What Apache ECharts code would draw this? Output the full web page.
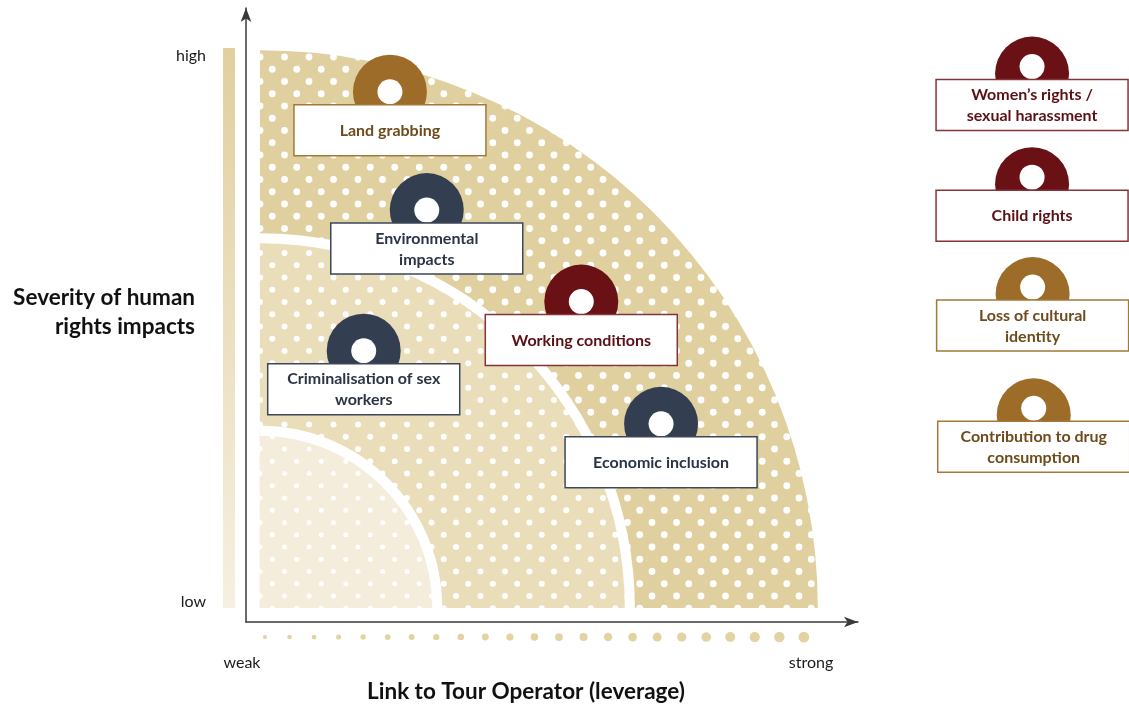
<!DOCTYPE html>
<html>
<head>
<meta charset="utf-8">
<script src="https://cdn.jsdelivr.net/npm/echarts@6/dist/echarts.min.js"></script>
<style>
html,body{margin:0;padding:0;background:#fff}
#main{width:1129px;height:711px}
</style>
</head>
<body>
<div id="main"></div>
<script>
// 风险区域（半径，单位与杠杆轴一致）
var zoneNames = ['outer', 'middle', 'inner'];
var zoneRadius = [100, 65.4, 30.9];

// 图中的人权议题
var issueNames = ['Land grabbing', 'Environmental\nimpacts', 'Working conditions', 'Criminalisation of sex\nworkers', 'Economic inclusion'];
var issueLeverage = [23.3, 29.9, 57.6, 18.6, 71.9];
var issueSeverity = [92.5, 71.3, 54.9, 46.1, 33.0];
var issueGroup = [0, 1, 2, 1, 1];

// 右侧未定位的议题
var otherNames = ['Women\u2019s rights /\nsexual harassment', 'Child rights', 'Loss of cultural\nidentity', 'Contribution to drug\nconsumption'];
var otherLeverage = [138.4, 138.4, 138.5, 138.7];
var otherSeverity = [97.0, 77.2, 57.5, 35.8];
var otherGroup = [2, 2, 0, 0];

// 底部杠杆刻度点
var leverageSteps = [0.9, 5.3, 9.7, 14.1, 18.5, 22.9, 27.2, 31.6, 36.0, 40.4, 44.8, 49.2,
  53.6, 58.0, 62.4, 66.8, 71.2, 75.6, 80.0, 84.3, 88.7, 93.1, 97.5];

var groupStyle = [
  {ring: '#9d6c29', border: '#a47838', text: '#6e4b1d'},  // brown
  {ring: '#333e50', border: '#3c4759', text: '#2b3445'},  // navy
  {ring: '#6a1116', border: '#843437', text: '#5b1015'}   // maroon
];

var FONT = 'Lato, "Open Sans", sans-serif';

// 圆点纹理
function dotPattern(bg, dotR) {
  var cv = document.createElement('canvas');
  cv.width = 49; cv.height = 49;
  var ctx = cv.getContext('2d');
  ctx.fillStyle = bg;
  ctx.fillRect(0, 0, 49, 49);
  ctx.fillStyle = '#ffffff';
  var ys = [6, 18.25, 30.5, 42.75];
  for (var i = 0; i < ys.length; i++) {
    var xs = i % 2 === 0 ? [6, 30.5] : [18.25, 42.75];
    for (var j = 0; j < xs.length; j++) {
      ctx.beginPath();
      ctx.arc(xs[j], ys[i], dotR, 0, Math.PI * 2);
      ctx.fill();
    }
  }
  return {image: cv, repeat: 'repeat', x: 254, y: 2};
}
var zonePatterns = [
  dotPattern('#e1d09f', 3.4),
  dotPattern('#eaddb9', 3.0),
  dotPattern('#f4eddb', 2.5)
];
var zoneGap = 1.8;

function itemRenderer(names, shift) {
  return function (params, api) {
    var p = api.coord([api.value(0), api.value(1)]);
    var st = groupStyle[api.value(2)];
    return {
      type: 'group',
      children: [
        {type: 'circle', shape: {cx: p[0], cy: p[1] + shift, r: 37}, style: {fill: st.ring}},
        {type: 'circle', shape: {cx: p[0], cy: p[1], r: 12.5}, style: {fill: '#fff'}},
        {type: 'rect', shape: {x: p[0] - 96, y: p[1] + 13, width: 192, height: 51},
          style: {fill: '#fff', stroke: st.border, lineWidth: 1.5}},
        {type: 'text', x: p[0], y: p[1] + 13 + 26,
          style: {text: names[params.dataIndex], fill: st.text, font: 'bold 16px ' + FONT,
            align: 'center', verticalAlign: 'middle', lineHeight: 21}}
      ]
    };
  };
}

function zip(a, b, c) {
  return a.map(function (v, i) { return [v, b[i], c[i]]; });
}

var myChart = echarts.init(document.getElementById('main'));
var option = {
  animation: false,
  grid: {left: 246, right: 271, top: 8, bottom: 89},
  xAxis: {
    type: 'value', min: -2.5, max: 107.2,
    axisLine: {show: true, onZero: false, symbol: ['none', 'arrow'], symbolSize: [8, 14],
      lineStyle: {color: '#3a3a3a', width: 1.5}},
    axisTick: {show: false}, axisLabel: {show: false}, splitLine: {show: false}
  },
  yAxis: {
    type: 'value', min: -2.5, max: 107.5,
    axisLine: {show: true, onZero: false, symbol: ['none', 'arrow'], symbolSize: [8, 14],
      lineStyle: {color: '#3a3a3a', width: 1.5}},
    axisTick: {show: false}, axisLabel: {show: false}, splitLine: {show: false}
  },
  graphic: [
    {type: 'rect', shape: {x: 223, y: 48, width: 12, height: 560}, silent: true,
      style: {fill: new echarts.graphic.LinearGradient(0, 0, 0, 1, [
        {offset: 0, color: '#e1cf9d'}, {offset: 1, color: '#f6f0e1'}])}},
    {type: 'text', x: 206, y: 56, style: {text: 'high', font: '16px ' + FONT, fill: '#1a1a1a', align: 'right', verticalAlign: 'middle'}},
    {type: 'text', x: 206, y: 602, style: {text: 'low', font: '16px ' + FONT, fill: '#1a1a1a', align: 'right', verticalAlign: 'middle'}},
    {type: 'text', x: 242, y: 663, style: {text: 'weak', font: '16px ' + FONT, fill: '#1a1a1a', align: 'center', verticalAlign: 'middle'}},
    {type: 'text', x: 811, y: 663, style: {text: 'strong', font: '16px ' + FONT, fill: '#1a1a1a', align: 'center', verticalAlign: 'middle'}},
    {type: 'text', x: 195, y: 312, style: {text: 'Severity of human\nrights impacts', font: 'bold 22.5px ' + FONT,
      fill: '#111', align: 'right', verticalAlign: 'middle', lineHeight: 29}},
    {type: 'text', x: 526, y: 692, style: {text: 'Link to Tour Operator (leverage)', font: 'bold 22.5px ' + FONT,
      fill: '#111', align: 'center', verticalAlign: 'middle'}}
  ],
  series: [
    {
      type: 'custom', name: 'zones', silent: true, clip: false,
      data: zoneRadius.map(function (r) { return [r, 0]; }),
      renderItem: function (params, api) {
        var c = api.coord([0, 0]);
        var r = api.size([api.value(0), 0])[0];
        var g = api.size([zoneGap, 0])[0];
        return {
          type: 'group',
          children: [
            {type: 'sector', shape: {cx: c[0], cy: c[1], r0: 0, r: r + g, startAngle: -Math.PI / 2, endAngle: 0},
              style: {fill: '#fff'}},
            {type: 'sector', shape: {cx: c[0], cy: c[1], r0: 0, r: r, startAngle: -Math.PI / 2, endAngle: 0},
              style: {fill: zonePatterns[params.dataIndex]}}
          ]
        };
      }
    },
    {
      type: 'scatter', name: 'leverage', silent: true, clip: false,
      data: leverageSteps.map(function (v) { return [v, -5.2]; }),
      symbolSize: function (val, params) { return 4.2 + params.dataIndex * 0.3; },
      itemStyle: {color: '#e3d3a3', opacity: 1}
    },
    {
      type: 'custom', name: 'issues', silent: true, clip: false,
      data: zip(issueLeverage, issueSeverity, issueGroup),
      renderItem: itemRenderer(issueNames, 0)
    },
    {
      type: 'custom', name: 'others', silent: true, clip: false,
      data: zip(otherLeverage, otherSeverity, otherGroup),
      renderItem: itemRenderer(otherNames, 7)
    }
  ]
};
myChart.setOption(option);
</script>
</body>
</html>
